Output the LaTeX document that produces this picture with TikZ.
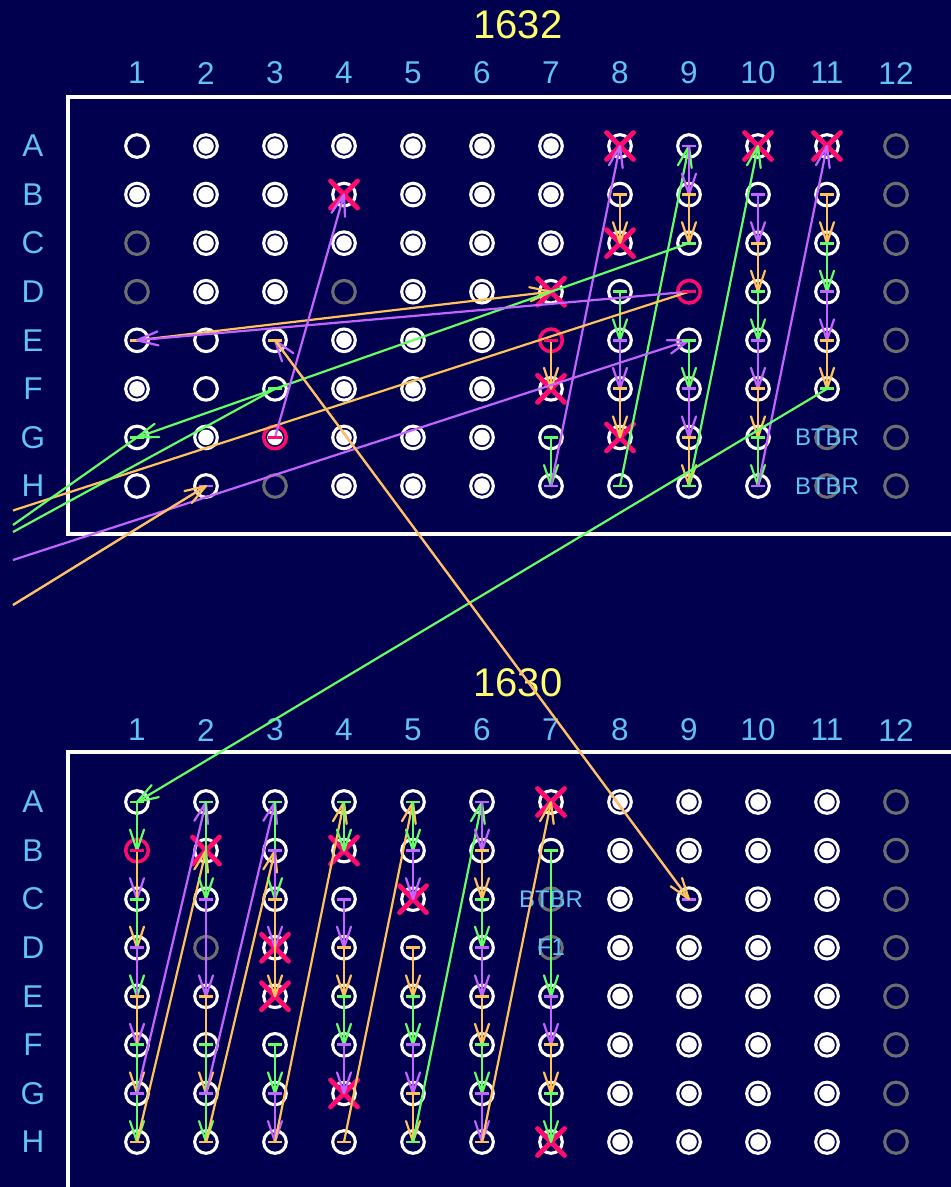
\documentclass[tikz,border=0pt]{standalone}
\usepackage{fontspec}
\setmainfont{Liberation Sans}
\usetikzlibrary{decorations.markings}
\definecolor{bg}{RGB}{0,0,78}
\definecolor{lblue}{RGB}{95,195,245}
\definecolor{ttl}{RGB}{255,255,110}
\definecolor{pur}{RGB}{196,100,255}
\definecolor{ora}{RGB}{255,195,90}
\definecolor{grn}{RGB}{100,255,100}
\definecolor{mag}{RGB}{255,10,110}
\definecolor{gry}{RGB}{110,110,110}
\newcommand\setwt[3]{\foreach \w in {#2}{\expandafter\gdef\csname wt#1\w\endcsname{#3}}}
\setwt{T}{A2,A3,A4,A5,A6,A7,B1,B2,B3,B5,B6,B7,C2,C3,C4,C5,C6,C7,D2,D3,D5,D6,E4,E5,E6,F1,F4,F5,F6,G2,G4,G5,G6,H4,H5,H6}{F}
\setwt{T}{C1,D1,D4,H3,G11,H11,A12,B12,C12,D12,E12,F12,G12,H12}{G}
\setwt{T}{D9,E7}{R}
\setwt{T}{G3}{RF}
\setwt{T}{B4,D7,F7,A8,C8,G8,A10,A11}{X}
\setwt{L}{A8,B8,C8,D8,E8,F8,G8,H8,A9,B9,D9,E9,F9,G9,H9,A10,B10,C10,D10,E10,F10,G10,H10,A11,B11,C11,D11,E11,F11,G11,H11}{F}
\setwt{L}{D2,C7,D7,A12,B12,C12,D12,E12,F12,G12,H12}{G}
\setwt{L}{B1}{R}
\setwt{L}{B2,D3,E3,B4,G4,C5,A7,H7}{X}
\def\typX{X}
\newcommand\warr[3]{\draw[arrowln,#1] (#2.center) -- (#3.center);
  \draw[startbar,#1] ([xshift=-7pt]#2.center) -- ([xshift=7pt]#2.center);}
\newcommand\wbar[2]{\draw[startbar,#1] ([xshift=-7pt]#2.center) -- ([xshift=7pt]#2.center);}
\tikzset{
  wellbase/.style={circle, minimum size=22.6pt, inner sep=0pt, line width=3.1pt},
  wellE/.style={wellbase, draw=white},
  wellX/.style={wellbase, draw=white},
  wellF/.style={wellbase, draw=white, path picture={\fill[white] (path picture bounding box.center) circle (7.8pt);}},
  wellG/.style={wellbase, draw=gry},
  wellR/.style={wellbase, draw=mag, line width=3.5pt},
  wellRF/.style={wellbase, draw=mag, line width=3.5pt, path picture={\fill[white] (path picture bounding box.center) circle (7.8pt);}},
  well/.style={well#1},
  xmark/.style={draw=mag, line width=4.8pt, line cap=round},
  vhead/.style={decoration={markings, mark=at position 1 with {\draw[line width=2.2pt, line join=round, line cap=round] (-21pt,7pt) -- (0pt,0pt) -- (-21pt,-7pt);}}},
  arrowln/.style={line width=2.2pt, vhead, postaction={decorate}},
  plainln/.style={line width=2.2pt},
  startbar/.style={line width=2.9pt},
  redbar/.style={draw=mag, line width=3pt},
  plate/.style={draw=white, line width=4.8pt},
  collbl/.style={text=lblue, font=\fontsize{31.5}{36}\selectfont, inner sep=0pt},
  ttlbl/.style={text=ttl, font=\fontsize{40}{46}\selectfont, inner sep=0pt},
  smlbl/.style={text=lblue, font=\fontsize{24}{28}\selectfont, inner sep=0pt},
}
\begin{document}
\begin{tikzpicture}[x=1pt, y=-1pt]
\useasboundingbox (0,0) rectangle (951,1187);
\fill[bg] (0,0) rectangle (951,1187);
\clip (0,0) rectangle (951,1187);
% plates
\draw[plate] (68,97) rectangle (1000,534);
\draw[plate] (68,752) rectangle (1000,1300);
% titles and labels
\node[ttlbl] (t1632) at (518,25) {1632};
\node[ttlbl] (t1630) at (518,683) {1630};
\foreach \cl in {1,...,12} {
  \node[collbl] (Tcol\cl) at ({137+69*(\cl-1)},73) {\cl};
  \node[collbl] (Lcol\cl) at ({137+69*(\cl-1)},730) {\cl};
}
\foreach \rw [count=\ri from 0] in {A,B,C,D,E,F,G,H} {
  \node[collbl] (Trow\rw) at (33,{146+48.57*\ri}) {\rw};
  \node[collbl] (Lrow\rw) at (33,{802+48.57*\ri}) {\rw};
}
% wells
\foreach \pl/\yo in {T/146, L/802} {
  \foreach \rw [count=\ri from 0] in {A,B,C,D,E,F,G,H} {
    \foreach \cl in {1,...,12} {
      \ifcsname wt\pl\rw\cl\endcsname \edef\wt{\csname wt\pl\rw\cl\endcsname}\else \def\wt{E}\fi
      \node[well/.expanded=\wt] (\pl\rw\cl) at ({137+69*(\cl-1)},{\yo+48.57*\ri}) {};
      \ifx\wt\typX
        \draw[xmark] ([xshift=-13.5pt,yshift=-13.5pt]\pl\rw\cl.center) -- ([xshift=13.5pt,yshift=13.5pt]\pl\rw\cl.center);
        \draw[xmark] ([xshift=-13.5pt,yshift=13.5pt]\pl\rw\cl.center) -- ([xshift=13.5pt,yshift=-13.5pt]\pl\rw\cl.center);
      \fi
    }
  }
}
\node[smlbl] (btbrTG) at (TG11) {BTBR};
\node[smlbl] (btbrTH) at (TH11) {BTBR};
\node[smlbl] (btbrL) at (LC7) {BTBR};
\node[smlbl] (f1L) at (LD7) {F1};
% off-canvas ends
\coordinate (offO1) at (13,510.5);
\coordinate (offG1) at (13,525);
\coordinate (offG2) at (13,532);
\coordinate (offP1) at (13,560);
\coordinate (offO2) at (13,605);
% top plate connectors
\warr{ora}{TE1}{TD7}
\warr{ora}{TE7}{TF7}
\warr{grn}{TG7}{TH7}
\warr{pur}{TH7}{TA8}
\warr{ora}{TB8}{TC8}
\warr{grn}{TD8}{TE8}
\warr{pur}{TE8}{TF8}
\warr{ora}{TF8}{TG8}
\warr{grn}{TH8}{TA9}
\warr{pur}{TA9}{TB9}
\warr{ora}{TB9}{TC9}
\warr{grn}{TC9}{TG1}
\warr{pur}{TD9}{TE1}
\draw[plainln,ora] (TD9.center) -- (offO1);
\draw[arrowln,pur] (offP1) -- (TE9.center);
\warr{grn}{TE9}{TF9}
\warr{pur}{TF9}{TG9}
\warr{ora}{TG9}{TH9}
\warr{grn}{TH9}{TA10}
\warr{pur}{TB10}{TC10}
\warr{ora}{TC10}{TD10}
\warr{grn}{TD10}{TE10}
\warr{pur}{TE10}{TF10}
\warr{ora}{TF10}{TG10}
\warr{grn}{TG10}{TH10}
\warr{pur}{TH10}{TA11}
\warr{ora}{TB11}{TC11}
\warr{grn}{TC11}{TD11}
\warr{pur}{TD11}{TE11}
\warr{ora}{TE11}{TF11}
\warr{grn}{TF11}{LA1}
\warr{pur}{TG3}{TB4}
\draw[plainln,grn] (TG1.center) -- (offG1);
\wbar{grn}{TG1}
\draw[plainln,grn] (TF3.center) -- (offG2);
\wbar{grn}{TF3}
\draw[plainln,pur] (TH2.center) -- (offO2);
\wbar{pur}{TH2}
\draw[arrowln,ora] (offO2) -- (TH2.center);
\warr{pur}{LC9}{TE3}
\warr{ora}{TE3}{LC9}
% bottom plate connectors
\warr{pur}{LA1}{LC1}
\warr{grn}{LA1}{LB1}
\warr{ora}{LB1}{LD1}
\warr{grn}{LC1}{LE1}
\warr{pur}{LD1}{LF1}
\warr{ora}{LE1}{LG1}
\warr{grn}{LF1}{LH1}
\warr{pur}{LG1}{LA2}
\warr{ora}{LH1}{LB2}
\warr{grn}{LA2}{LC2}
\warr{pur}{LC2}{LE2}
\warr{ora}{LE2}{LG2}
\warr{grn}{LF2}{LH2}
\warr{pur}{LG2}{LA3}
\warr{ora}{LH2}{LB3}
\warr{grn}{LA3}{LC3}
\warr{pur}{LB3}{LD3}
\warr{ora}{LC3}{LE3}
\warr{grn}{LF3}{LG3}
\warr{pur}{LG3}{LH3}
\warr{ora}{LH3}{LA4}
\warr{grn}{LA4}{LB4}
\warr{pur}{LC4}{LD4}
\warr{ora}{LD4}{LE4}
\warr{grn}{LE4}{LF4}
\warr{pur}{LF4}{LG4}
\warr{ora}{LH4}{LA5}
\warr{grn}{LA5}{LB5}
\warr{pur}{LB5}{LC5}
\warr{ora}{LD5}{LE5}
\warr{grn}{LE5}{LF5}
\warr{pur}{LF5}{LG5}
\warr{ora}{LG5}{LH5}
\warr{grn}{LH5}{LA6}
\warr{pur}{LA6}{LB6}
\warr{ora}{LB6}{LC6}
\warr{grn}{LC6}{LD6}
\warr{pur}{LD6}{LE6}
\warr{ora}{LE6}{LF6}
\warr{grn}{LF6}{LG6}
\warr{pur}{LG6}{LH6}
\warr{ora}{LH6}{LA7}
\warr{grn}{LB7}{LE7}
\warr{pur}{LE7}{LF7}
\warr{ora}{LF7}{LG7}
\warr{grn}{LG7}{LH7}
% red source marks
\foreach \w in {TD9,TE7,TG3,LB1}
  \draw[redbar] ([xshift=-7pt]\w.center) -- ([xshift=7pt]\w.center);
\end{tikzpicture}
\end{document}
